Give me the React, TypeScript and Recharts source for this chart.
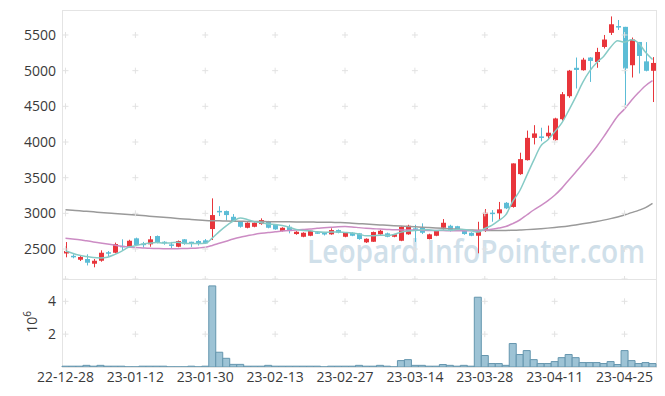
import React from "react";
import { ComposedChart, Bar, Line, XAxis, YAxis, ReferenceDot } from "recharts";

// trading days shown on the category axis
const dates = [
  "22-12-28", "22-12-29", "23-01-02", "23-01-03", "23-01-04", "23-01-05", "23-01-06", "23-01-09", "23-01-10", "23-01-11",
  "23-01-12", "23-01-13", "23-01-16", "23-01-17", "23-01-18", "23-01-19", "23-01-20", "23-01-25", "23-01-26", "23-01-27",
  "23-01-30", "23-01-31", "23-02-01", "23-02-02", "23-02-03", "23-02-06", "23-02-07", "23-02-08", "23-02-09", "23-02-10",
  "23-02-13", "23-02-14", "23-02-15", "23-02-16", "23-02-17", "23-02-20", "23-02-21", "23-02-22", "23-02-23", "23-02-24",
  "23-02-27", "23-02-28", "23-03-02", "23-03-03", "23-03-06", "23-03-07", "23-03-08", "23-03-09", "23-03-10", "23-03-13",
  "23-03-14", "23-03-15", "23-03-16", "23-03-17", "23-03-20", "23-03-21", "23-03-22", "23-03-23", "23-03-24", "23-03-27",
  "23-03-28", "23-03-29", "23-03-30", "23-03-31", "23-04-03", "23-04-04", "23-04-05", "23-04-06", "23-04-07", "23-04-10",
  "23-04-11", "23-04-12", "23-04-13", "23-04-14", "23-04-17", "23-04-18", "23-04-19", "23-04-20", "23-04-21", "23-04-24",
  "23-04-25", "23-04-26", "23-04-27", "23-04-28", "23-05-02",
];

const dateTicks = [
  "22-12-28", "23-01-12", "23-01-30", "23-02-13", "23-02-27",
  "23-03-14", "23-03-28", "23-04-11", "23-04-25",
];

const priceTicks = [2500, 3000, 3500, 4000, 4500, 5000, 5500];
const volumeTicks = [2, 4];

const opens = [
  2438, 2405, 2350, 2360, 2294, 2336, 2455, 2448, 2545, 2532,
  2650, 2575, 2566, 2682, 2602, 2565, 2532, 2636, 2602, 2612,
  2622, 2780, 3035, 3032, 2952, 2882, 2798, 2812, 2850, 2882,
  2840, 2752, 2812, 2710, 2672, 2686, 2735, 2725, 2706, 2766,
  2672, 2728, 2720, 2594, 2602, 2706, 2720, 2672, 2616, 2706,
  2790, 2804, 2640, 2686, 2798, 2826, 2820, 2752, 2728, 2686,
  2756, 3010, 3000, 3148, 3090, 3550, 3746, 4058, 4078, 4080,
  4026, 4320, 4642, 5040, 5006, 5184, 5122, 5332, 5530, 5625,
  5614, 5076, 5402, 5130, 4998,
];

const highs = [
  2598, 2426, 2412, 2426, 2360, 2482, 2472, 2590, 2636, 2630,
  2660, 2600, 2682, 2690, 2610, 2600, 2620, 2640, 2602, 2625,
  2640, 3210, 3100, 3040, 2990, 2890, 2875, 2875, 2930, 2895,
  2850, 2805, 2840, 2750, 2735, 2765, 2745, 2740, 2790, 2775,
  2735, 2735, 2725, 2650, 2745, 2770, 2730, 2712, 2820, 2840,
  2840, 2860, 2715, 2762, 2920, 2840, 2825, 2760, 2735, 2882,
  3060, 3046, 3160, 3158, 3700, 3850, 4160, 4236, 4200, 4230,
  4340, 4700, 5010, 5184, 5180, 5190, 5320, 5500, 5760, 5710,
  5614, 5464, 5402, 5400, 5190,
];

const lows = [
  2384, 2370, 2332, 2270, 2244, 2322, 2402, 2440, 2486, 2520,
  2545, 2520, 2532, 2580, 2560, 2510, 2525, 2560, 2530, 2550,
  2570, 2626, 2962, 2900, 2880, 2800, 2790, 2805, 2840, 2790,
  2770, 2745, 2720, 2700, 2665, 2680, 2715, 2690, 2700, 2720,
  2665, 2680, 2630, 2585, 2600, 2700, 2665, 2665, 2610, 2700,
  2600, 2710, 2635, 2680, 2770, 2745, 2760, 2700, 2680, 2440,
  2740, 2882, 2906, 3060, 3080, 3540, 3740, 3966, 4010, 4040,
  4020, 4300, 4620, 4750, 5000, 4842, 5040, 5310, 5500, 5570,
  4516, 4904, 4960, 4990, 4560,
];

const closes = [
  2472, 2395, 2388, 2308, 2336, 2448, 2448, 2570, 2538, 2616,
  2556, 2565, 2636, 2588, 2580, 2560, 2612, 2570, 2570, 2570,
  2580, 2976, 3025, 2976, 2892, 2812, 2868, 2868, 2906, 2798,
  2776, 2798, 2752, 2742, 2728, 2756, 2728, 2715, 2766, 2728,
  2728, 2686, 2640, 2644, 2738, 2756, 2672, 2706, 2812, 2826,
  2780, 2728, 2706, 2756, 2868, 2752, 2780, 2710, 2686, 2756,
  3008, 3000, 3056, 3070, 3700, 3760, 4058, 4120, 4072, 4130,
  4330, 4670, 5000, 5010, 5154, 5136, 5262, 5436, 5650, 5616,
  5030, 5436, 5206, 4998, 5108,
];

const ma5 = [
  2476, 2440, 2412, 2395, 2380, 2375, 2386, 2422, 2468, 2524,
  2546, 2569, 2582, 2592, 2585, 2586, 2595, 2582, 2578, 2576,
  2580, 2653, 2744, 2825, 2890, 2936, 2915, 2883, 2869, 2850,
  2843, 2829, 2806, 2773, 2759, 2755, 2741, 2734, 2739, 2739,
  2733, 2725, 2710, 2685, 2687, 2693, 2690, 2703, 2737, 2754,
  2759, 2770, 2770, 2759, 2768, 2762, 2772, 2773, 2759, 2737,
  2788, 2832, 2901, 2978, 3167, 3317, 3529, 3742, 3942, 4028,
  4142, 4264, 4440, 4628, 4833, 4994, 5112, 5200, 5328, 5420,
  5399, 5434, 5388, 5257, 5156,
];

const ma20 = [
  2650, 2640, 2630, 2615, 2600, 2585, 2570, 2555, 2540, 2530,
  2520, 2515, 2510, 2508, 2505, 2505, 2505, 2508, 2510, 2515,
  2525, 2550, 2580, 2610, 2640, 2665, 2685, 2705, 2720, 2732,
  2741, 2752, 2760, 2766, 2773, 2781, 2790, 2797, 2805, 2812,
  2815, 2810, 2800, 2790, 2785, 2780, 2775, 2770, 2768, 2766,
  2765, 2762, 2760, 2758, 2758, 2757, 2757, 2756, 2755, 2756,
  2765, 2778, 2795, 2815, 2857, 2907, 2977, 3047, 3110, 3175,
  3253, 3350, 3465, 3577, 3691, 3810, 3934, 4071, 4219, 4362,
  4463, 4585, 4693, 4789, 4859,
];

const ma120 = [
  3050, 3043, 3036, 3028, 3021, 3013, 3006, 2998, 2991, 2984,
  2977, 2969, 2961, 2953, 2945, 2937, 2929, 2921, 2914, 2907,
  2901, 2897, 2895, 2893, 2891, 2889, 2887, 2886, 2885, 2884,
  2883, 2882, 2881, 2880, 2879, 2878, 2877, 2876, 2874, 2871,
  2868, 2862, 2856, 2850, 2844, 2838, 2832, 2827, 2822, 2817,
  2812, 2806, 2801, 2796, 2791, 2786, 2779, 2772, 2767, 2763,
  2760, 2758, 2758, 2760, 2763, 2767, 2772, 2778, 2785, 2793,
  2802, 2812, 2824, 2838, 2853, 2869, 2886, 2905, 2926, 2950,
  2978, 3010, 3042, 3080, 3140,
];

// volume in millions of shares
const volumes = [
  0.05, 0.05, 0.05, 0.1, 0.05, 0.1, 0.05, 0.05, 0.05, 0.01,
  0.01, 0.05, 0.05, 0.05, 0.05, 0.01, 0.01, 0.01, 0.05, 0.01,
  0.05, 4.94, 0.9, 0.53, 0.16, 0.16, 0.05, 0.05, 0.05, 0.1,
  0.05, 0.05, 0.05, 0.05, 0.05, 0.05, 0.05, 0.01, 0.05, 0.05,
  0.05, 0.05, 0.1, 0.05, 0.05, 0.1, 0.05, 0.01, 0.39, 0.45,
  0.1, 0.1, 0.05, 0.05, 0.15, 0.1, 0.05, 0.1, 0.05, 4.25,
  0.7, 0.21, 0.21, 0.1, 1.43, 0.76, 1.0, 0.45, 0.21, 0.21,
  0.33, 0.57, 0.76, 0.57, 0.27, 0.27, 0.27, 0.21, 0.33, 0.15,
  1.0, 0.39, 0.21, 0.27, 0.21,
];

const UP = "#e8353b";
const DOWN = "#5cbdd6";
const FONT = "'Open Sans', sans-serif";
const GRID = "#e2e2e2";

const rows = dates.map((d, i) => ({
  d,
  o: opens[i],
  h: highs[i],
  l: lows[i],
  c: closes[i],
  range: [lows[i], highs[i]],
  ma5: ma5[i],
  ma20: ma20[i],
  ma120: ma120[i],
  v: volumes[i],
}));

function Candle(props: any) {
  const { x, y, width, height, payload } = props;
  if (x == null || y == null || !payload) return null;
  const top = Math.min(y, y + height);
  const bottom = Math.max(y, y + height);
  const span = payload.h - payload.l;
  const k = span > 0 ? (bottom - top) / span : 0;
  const color = payload.c >= payload.o ? UP : DOWN;
  const bodyTop = top + (payload.h - Math.max(payload.o, payload.c)) * k;
  const bodyBottom = top + (payload.h - Math.min(payload.o, payload.c)) * k;
  const cx = Math.round(x + width / 2) + 0.5;
  return (
    <g>
      <line x1={cx} x2={cx} y1={top} y2={bottom} stroke={color} strokeWidth={1} />
      <rect
        x={cx - 2.5}
        y={bodyTop}
        width={5}
        height={Math.max(bodyBottom - bodyTop, 1.5)}
        fill={color}
      />
    </g>
  );
}

const plus = (p: any) => (
  <path
    d={`M${p.cx - 3},${p.cy}H${p.cx + 3}M${p.cx},${p.cy - 3}V${p.cy + 3}`}
    stroke={GRID}
    strokeWidth={1}
  />
);

const tickStyle = { fill: "#3a3a3a", fontSize: 14, fontFamily: FONT };

export default function App() {
  return (
    <div style={{ position: "absolute", left: 0, top: 0, width: 665, height: 396, background: "#fff" }}>
      <svg width={665} height={396} style={{ position: "absolute", left: 0, top: 0 }}>
        <text
          x={307}
          y={263}
          fontFamily={FONT}
          fontSize={32}
          fontWeight={600}
          fill="#d0e0ea"
          textLength={338}
          lengthAdjust="spacingAndGlyphs"
        >
          Leopard.InfoPointer.com
        </text>
        <rect x={62.5} y={10.5} width={594} height={357} fill="none" stroke="#e4e4e4" />
        <line x1={62} x2={657} y1={279.5} y2={279.5} stroke="#e4e4e4" />
        <text
          transform="translate(37,322) rotate(-90)"
          textAnchor="middle"
          fontFamily={FONT}
          fontSize={14}
          fill="#3a3a3a"
        >
          10<tspan dy={-6} fontSize={10}>6</tspan>
        </text>
      </svg>

      <div style={{ position: "absolute", left: 0, top: 0 }}>
        <ComposedChart
          width={665}
          height={280}
          data={rows}
          margin={{ top: 10, right: 9, bottom: 1, left: 0 }}
        >
          <XAxis dataKey="d" hide />
          <YAxis
            domain={[2080, 5850]}
            allowDataOverflow
            ticks={priceTicks}
            width={62}
            axisLine={false}
            tickLine={false}
            tickSize={6}
            tickMargin={0}
            tick={tickStyle}
          />
          {dateTicks.map((d) =>
            [2080, ...priceTicks].map((p) => (
              <ReferenceDot key={d + p} x={d} y={p} shape={plus} />
            ))
          )}
          <Bar dataKey="range" shape={Candle} isAnimationActive={false} />
          <Line type="monotone" dataKey="ma120" stroke="#9a9a9a" strokeWidth={1.5} dot={false} isAnimationActive={false} />
          <Line type="monotone" dataKey="ma20" stroke="#cc8cc4" strokeWidth={1.5} dot={false} isAnimationActive={false} />
          <Line type="monotone" dataKey="ma5" stroke="#86cbc6" strokeWidth={1.5} dot={false} isAnimationActive={false} />
        </ComposedChart>
      </div>

      <div style={{ position: "absolute", left: 0, top: 279 }}>
        <ComposedChart
          width={665}
          height={117}
          data={rows}
          margin={{ top: 0, right: 9, bottom: 0, left: 0 }}
          barCategoryGap={0}
        >
          <XAxis
            dataKey="d"
            ticks={dateTicks}
            interval={0}
            height={29}
            axisLine={false}
            tickLine={false}
            tickSize={5}
            tickMargin={0}
            tick={tickStyle}
          />
          <YAxis
            domain={[0, 5.36]}
            allowDataOverflow
            ticks={volumeTicks}
            width={62}
            axisLine={false}
            tickLine={false}
            tickSize={6}
            tickMargin={0}
            tick={tickStyle}
          />
          {dateTicks.map((d) =>
            volumeTicks.map((p) => (
              <ReferenceDot key={d + p} x={d} y={p} shape={plus} />
            ))
          )}
          <Bar dataKey="v" fill="#9dc3d5" stroke="#6596ae" strokeWidth={1} isAnimationActive={false} />
        </ComposedChart>
      </div>
    </div>
  );
}
